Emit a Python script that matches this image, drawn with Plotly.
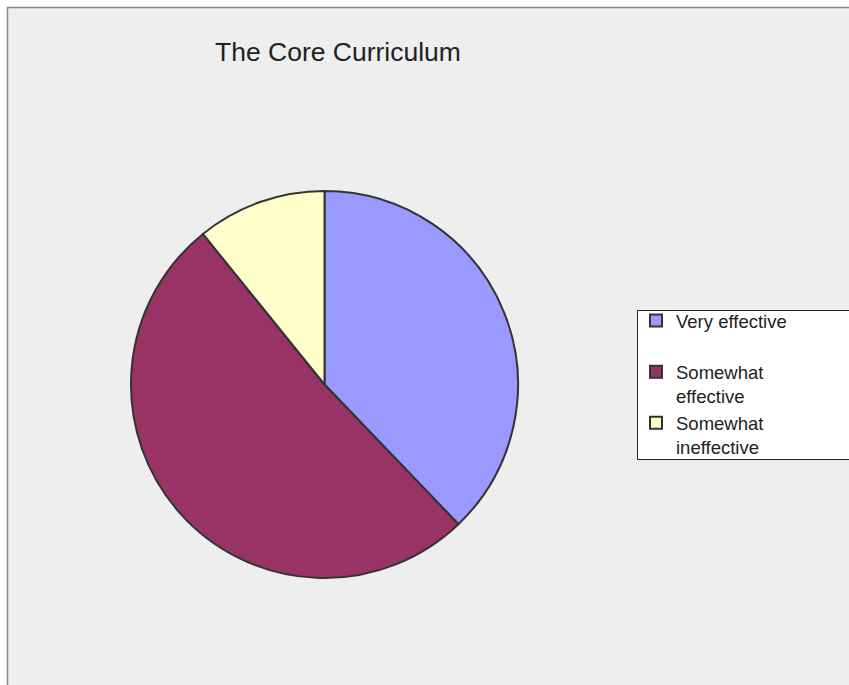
import plotly.graph_objects as go

labels = ["Very effective<br> ", "Somewhat<br>effective", "Somewhat<br>ineffective"]
values = [14, 19, 4]
colors = ["#9999FF", "#993366", "#FFFFCC"]

W, H = 849, 685

def px_x(v):
    return v / W

def px_y(v):
    return 1 - v / H

fig = go.Figure()
fig.add_trace(go.Pie(
    labels=labels,
    values=values,
    marker=dict(colors=colors, line=dict(color="#333333", width=2)),
    sort=False,
    direction="clockwise",
    rotation=0,
    textinfo="none",
    hoverinfo="label+percent",
    domain=dict(x=[px_x(131), px_x(518)], y=[px_y(578), px_y(191)]),
))

fig.update_layout(
    width=W, height=H,
    margin=dict(l=0, r=0, t=0, b=0),
    paper_bgcolor="white",
    plot_bgcolor="white",
    font=dict(family="Liberation Sans, Arial, sans-serif", color="#222222"),
    title=dict(
        text="The Core Curriculum",
        x=px_x(215), xanchor="left",
        y=px_y(52), yanchor="middle",
        font=dict(size=26.5, color="#222222", family="Liberation Sans, Arial, sans-serif"),
    ),
    legend=dict(
        x=px_x(636), xanchor="left",
        y=px_y(302), yanchor="top",
        bgcolor="rgba(0,0,0,0)",
        borderwidth=0,
        font=dict(size=18.5, color="#222222"),
        valign="top",
        tracegroupgap=0,
    ),
    shapes=[
        dict(type="rect", xref="paper", yref="paper",
             x0=px_x(7.5), x1=1.05, y0=-0.05, y1=px_y(7.5),
             fillcolor="#EEEEEE", line=dict(color="#888888", width=1.5),
             layer="below"),
        dict(type="rect", xref="paper", yref="paper",
             x0=px_x(637.5), x1=1.05, y0=px_y(459.5), y1=px_y(310.5),
             fillcolor="white", line=dict(color="#222222", width=1),
             layer="below"),
    ],
)

fig.write_html("out.html")
